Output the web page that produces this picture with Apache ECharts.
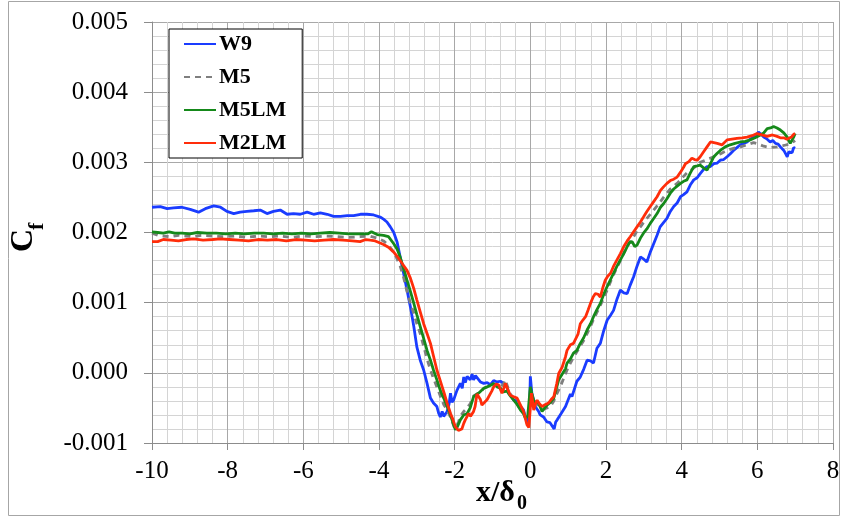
<!DOCTYPE html>
<html>
<head>
<meta charset="utf-8">
<script src="https://cdn.jsdelivr.net/npm/echarts@6/dist/echarts.min.js"></script>
<style>
html,body{margin:0;padding:0;background:#fff;}
#chart{width:843px;height:517px;}
</style>
</head>
<body>
<div id="chart"></div>
<script>
// ---- Data: x/δ0 and Cf values ----
const seriesNames = ['W9', 'M5', 'M5LM', 'M2LM'];

const w9 = [
[-10.0,2.36e-3],[-9.78,2.37e-3],[-9.60,2.34e-3],[-9.43,2.35e-3],[-9.21,2.36e-3],[-8.99,2.33e-3],[-8.77,2.29e-3],[-8.59,2.34e-3],
[-8.37,2.38e-3],[-8.19,2.36e-3],[-8.02,2.30e-3],[-7.84,2.27e-3],[-7.67,2.29e-3],[-7.49,2.30e-3],[-7.31,2.31e-3],[-7.14,2.32e-3],
[-6.96,2.27e-3],[-6.79,2.30e-3],[-6.61,2.32e-3],[-6.43,2.26e-3],[-6.26,2.27e-3],[-6.08,2.26e-3],[-5.90,2.29e-3],[-5.73,2.26e-3],
[-5.55,2.28e-3],[-5.37,2.26e-3],[-5.20,2.23e-3],[-5.02,2.23e-3],[-4.84,2.24e-3],[-4.67,2.24e-3],[-4.49,2.26e-3],[-4.32,2.26e-3],
[-4.14,2.25e-3],[-3.97,2.22e-3],[-3.88,2.19e-3],[-3.79,2.15e-3],[-3.70,2.08e-3],[-3.61,2.00e-3],[-3.52,1.86e-3],[-3.44,1.65e-3],
[-3.35,1.42e-3],[-3.26,1.18e-3],[-3.17,0.94e-3],[-3.08,0.66e-3],[-3.00,0.37e-3],[-2.91,0.18e-3],[-2.82,0.04e-3],[-2.73,-0.15e-3],
[-2.64,-0.36e-3],[-2.56,-0.43e-3],[-2.47,-0.48e-3],[-2.42,-0.58e-3],[-2.38,-0.63e-3],[-2.33,-0.55e-3],[-2.29,-0.62e-3],[-2.20,-0.55e-3],
[-2.15,-0.45e-3],[-2.11,-0.29e-3],[-2.07,-0.42e-3],[-2.03,-0.39e-3],[-1.94,-0.25e-3],[-1.85,-0.15e-3],[-1.80,-0.22e-3],[-1.76,-0.06e-3],
[-1.72,-0.14e-3],[-1.67,-0.05e-3],[-1.59,-0.10e-3],[-1.54,-0.02e-3],[-1.50,-0.10e-3],[-1.45,-0.04e-3],[-1.41,-0.03e-3],[-1.32,-0.13e-3],
[-1.23,-0.15e-3],[-1.14,-0.14e-3],[-1.06,-0.17e-3],[-0.97,-0.11e-3],[-0.88,-0.13e-3],[-0.79,-0.12e-3],[-0.71,-0.15e-3],[-0.62,-0.20e-3],
[-0.57,-0.29e-3],[-0.50,-0.33e-3],[-0.44,-0.39e-3],[-0.35,-0.40e-3],[-0.26,-0.48e-3],[-0.18,-0.53e-3],[-0.13,-0.63e-3],[-0.07,-0.74e-3],
[-0.02,-0.50e-3],[0.00,-0.05e-3],[0.04,-0.29e-3],[0.09,-0.40e-3],[0.13,-0.48e-3],[0.22,-0.55e-3],[0.26,-0.60e-3],[0.35,-0.63e-3],
[0.44,-0.70e-3],[0.52,-0.71e-3],[0.57,-0.72e-3],[0.63,-0.80e-3],[0.67,-0.70e-3],[0.71,-0.67e-3],[0.79,-0.60e-3],[0.84,-0.58e-3],
[0.93,-0.48e-3],[0.97,-0.46e-3],[1.06,-0.30e-3],[1.10,-0.34e-3],[1.23,-0.12e-3],[1.32,-0.06e-3],[1.41,0.05e-3],[1.50,0.18e-3],
[1.59,0.17e-3],[1.67,0.14e-3],[1.76,0.35e-3],[1.85,0.42e-3],[1.94,0.60e-3],[2.03,0.75e-3],[2.12,0.82e-3],[2.20,0.89e-3],
[2.29,1.05e-3],[2.38,1.18e-3],[2.47,1.14e-3],[2.56,1.13e-3],[2.64,1.25e-3],[2.73,1.37e-3],[2.82,1.52e-3],[2.91,1.65e-3],
[3.00,1.62e-3],[3.08,1.58e-3],[3.17,1.72e-3],[3.26,1.84e-3],[3.35,1.96e-3],[3.43,2.08e-3],[3.52,2.14e-3],[3.61,2.20e-3],
[3.70,2.30e-3],[3.79,2.37e-3],[3.88,2.42e-3],[3.97,2.51e-3],[4.05,2.54e-3],[4.14,2.58e-3],[4.23,2.68e-3],[4.32,2.75e-3],
[4.41,2.78e-3],[4.49,2.84e-3],[4.58,2.90e-3],[4.67,2.94e-3],[4.76,2.94e-3],[4.85,2.98e-3],[4.94,2.99e-3],[5.02,3.03e-3],
[5.11,3.04e-3],[5.20,3.08e-3],[5.28,3.12e-3],[5.37,3.17e-3],[5.46,3.21e-3],[5.55,3.25e-3],[5.64,3.27e-3],[5.73,3.29e-3],
[5.81,3.33e-3],[5.90,3.36e-3],[5.96,3.38e-3],[6.03,3.43e-3],[6.10,3.40e-3],[6.17,3.36e-3],[6.26,3.33e-3],[6.34,3.29e-3],
[6.41,3.31e-3],[6.48,3.27e-3],[6.55,3.26e-3],[6.61,3.22e-3],[6.70,3.17e-3],[6.75,3.12e-3],[6.79,3.08e-3],[6.83,3.15e-3],
[6.87,3.17e-3],[6.92,3.14e-3],[6.96,3.21e-3],[7.00,3.20e-3]
];

const m5 = [
[-10.0,1.99e-3],[-9.85,1.96e-3],[-9.70,1.95e-3],[-9.50,1.94e-3],[-9.30,1.96e-3],[-9.10,1.95e-3],[-8.90,1.94e-3],[-8.70,1.96e-3],
[-8.40,1.95e-3],[-8.10,1.94e-3],[-7.80,1.95e-3],[-7.50,1.93e-3],[-7.20,1.95e-3],[-6.90,1.94e-3],[-6.60,1.95e-3],[-6.30,1.93e-3],
[-6.00,1.95e-3],[-5.70,1.94e-3],[-5.40,1.95e-3],[-5.10,1.94e-3],[-4.80,1.93e-3],[-4.50,1.94e-3],[-4.25,1.95e-3],[-4.05,1.92e-3],
[-3.88,1.88e-3],[-3.75,1.82e-3],[-3.61,1.72e-3],[-3.52,1.62e-3],[-3.44,1.52e-3],[-3.35,1.36e-3],[-3.26,1.16e-3],[-3.17,0.99e-3],
[-3.08,0.85e-3],[-3.00,0.70e-3],[-2.91,0.56e-3],[-2.82,0.38e-3],[-2.73,0.20e-3],[-2.64,0.04e-3],[-2.56,-0.08e-3],[-2.47,-0.20e-3],
[-2.38,-0.33e-3],[-2.29,-0.45e-3],[-2.20,-0.53e-3],[-2.12,-0.62e-3],[-2.05,-0.72e-3],[-2.00,-0.79e-3],[-1.95,-0.76e-3],[-1.90,-0.70e-3],
[-1.85,-0.62e-3],[-1.76,-0.55e-3],[-1.67,-0.50e-3],[-1.59,-0.44e-3],[-1.50,-0.33e-3],[-1.41,-0.30e-3],[-1.32,-0.28e-3],[-1.23,-0.22e-3],
[-1.14,-0.20e-3],[-1.06,-0.17e-3],[-0.97,-0.16e-3],[-0.88,-0.18e-3],[-0.79,-0.20e-3],[-0.71,-0.16e-3],[-0.66,-0.10e-3],[-0.60,-0.20e-3],
[-0.53,-0.30e-3],[-0.44,-0.38e-3],[-0.35,-0.44e-3],[-0.26,-0.52e-3],[-0.18,-0.58e-3],[-0.10,-0.66e-3],[-0.04,-0.62e-3],[0.00,-0.22e-3],
[0.05,-0.32e-3],[0.10,-0.42e-3],[0.18,-0.45e-3],[0.26,-0.47e-3],[0.35,-0.52e-3],[0.44,-0.50e-3],[0.53,-0.48e-3],[0.62,-0.40e-3],
[0.70,-0.30e-3],[0.79,-0.20e-3],[0.88,-0.08e-3],[0.97,0.04e-3],[1.06,0.14e-3],[1.14,0.22e-3],[1.23,0.30e-3],[1.32,0.38e-3],
[1.41,0.46e-3],[1.50,0.56e-3],[1.59,0.66e-3],[1.67,0.76e-3],[1.76,0.86e-3],[1.85,0.96e-3],[1.94,1.07e-3],[2.03,1.18e-3],
[2.12,1.30e-3],[2.20,1.40e-3],[2.29,1.50e-3],[2.38,1.60e-3],[2.47,1.71e-3],[2.56,1.80e-3],[2.64,1.87e-3],[2.73,1.94e-3],
[2.82,2.02e-3],[2.91,2.08e-3],[2.99,2.14e-3],[3.08,2.20e-3],[3.17,2.26e-3],[3.26,2.32e-3],[3.35,2.38e-3],[3.44,2.44e-3],
[3.52,2.50e-3],[3.61,2.56e-3],[3.70,2.62e-3],[3.79,2.66e-3],[3.88,2.70e-3],[3.97,2.75e-3],[4.05,2.80e-3],[4.14,2.85e-3],
[4.23,2.88e-3],[4.32,2.92e-3],[4.41,2.96e-3],[4.49,3.00e-3],[4.67,3.04e-3],[4.85,3.08e-3],[5.02,3.12e-3],[5.20,3.17e-3],
[5.37,3.20e-3],[5.55,3.22e-3],[5.73,3.25e-3],[5.90,3.28e-3],[6.03,3.26e-3],[6.17,3.23e-3],[6.34,3.21e-3],[6.52,3.22e-3],
[6.70,3.24e-3],[6.85,3.26e-3],[7.00,3.31e-3]
];

const m5lm = [
[-10.0,2.01e-3],[-9.85,2.00e-3],[-9.70,1.99e-3],[-9.55,2.01e-3],[-9.40,1.99e-3],[-9.20,1.99e-3],[-9.00,1.98e-3],[-8.80,2.00e-3],
[-8.55,1.99e-3],[-8.30,1.99e-3],[-8.05,1.98e-3],[-7.80,1.99e-3],[-7.55,1.98e-3],[-7.30,1.99e-3],[-7.05,1.99e-3],[-6.80,1.98e-3],
[-6.55,1.99e-3],[-6.30,1.98e-3],[-6.05,1.99e-3],[-5.80,1.98e-3],[-5.55,1.99e-3],[-5.30,2.00e-3],[-5.05,1.99e-3],[-4.80,1.98e-3],
[-4.55,1.98e-3],[-4.30,1.98e-3],[-4.20,2.01e-3],[-4.05,1.97e-3],[-3.88,1.96e-3],[-3.75,1.94e-3],[-3.61,1.84e-3],[-3.52,1.76e-3],
[-3.44,1.65e-3],[-3.35,1.49e-3],[-3.26,1.32e-3],[-3.17,1.16e-3],[-3.08,0.99e-3],[-3.00,0.83e-3],[-2.91,0.66e-3],[-2.82,0.49e-3],
[-2.73,0.32e-3],[-2.64,0.18e-3],[-2.56,0.04e-3],[-2.47,-0.10e-3],[-2.38,-0.25e-3],[-2.29,-0.36e-3],[-2.20,-0.48e-3],[-2.13,-0.57e-3],
[-2.07,-0.67e-3],[-2.02,-0.75e-3],[-1.98,-0.81e-3],[-1.94,-0.78e-3],[-1.90,-0.79e-3],[-1.85,-0.67e-3],[-1.81,-0.69e-3],[-1.76,-0.60e-3],
[-1.67,-0.58e-3],[-1.59,-0.50e-3],[-1.50,-0.34e-3],[-1.46,-0.36e-3],[-1.37,-0.29e-3],[-1.32,-0.30e-3],[-1.23,-0.22e-3],[-1.14,-0.20e-3],
[-1.06,-0.18e-3],[-0.97,-0.15e-3],[-0.88,-0.20e-3],[-0.79,-0.22e-3],[-0.71,-0.27e-3],[-0.62,-0.26e-3],[-0.53,-0.33e-3],[-0.44,-0.39e-3],
[-0.35,-0.45e-3],[-0.26,-0.53e-3],[-0.18,-0.58e-3],[-0.13,-0.65e-3],[-0.07,-0.62e-3],[0.00,-0.20e-3],[0.04,-0.30e-3],[0.09,-0.39e-3],
[0.13,-0.42e-3],[0.22,-0.43e-3],[0.31,-0.55e-3],[0.38,-0.50e-3],[0.44,-0.46e-3],[0.53,-0.42e-3],[0.62,-0.36e-3],[0.70,-0.20e-3],
[0.75,-0.10e-3],[0.84,-0.02e-3],[0.93,0.06e-3],[0.97,0.14e-3],[1.06,0.20e-3],[1.14,0.28e-3],[1.23,0.32e-3],[1.32,0.42e-3],
[1.41,0.50e-3],[1.50,0.61e-3],[1.59,0.70e-3],[1.67,0.80e-3],[1.76,0.90e-3],[1.85,0.99e-3],[1.94,1.12e-3],[2.03,1.23e-3],
[2.12,1.33e-3],[2.20,1.42e-3],[2.29,1.52e-3],[2.38,1.61e-3],[2.47,1.70e-3],[2.56,1.80e-3],[2.62,1.86e-3],[2.69,1.87e-3],
[2.76,1.80e-3],[2.82,1.82e-3],[2.91,1.92e-3],[2.99,1.99e-3],[3.08,2.05e-3],[3.17,2.13e-3],[3.26,2.20e-3],[3.35,2.27e-3],
[3.44,2.36e-3],[3.52,2.41e-3],[3.61,2.48e-3],[3.70,2.56e-3],[3.79,2.62e-3],[3.88,2.66e-3],[3.97,2.70e-3],[4.05,2.73e-3],
[4.14,2.75e-3],[4.23,2.85e-3],[4.32,2.94e-3],[4.41,2.95e-3],[4.49,2.96e-3],[4.58,2.92e-3],[4.67,2.89e-3],[4.76,2.98e-3],
[4.85,3.08e-3],[4.94,3.13e-3],[5.02,3.17e-3],[5.15,3.22e-3],[5.28,3.25e-3],[5.41,3.27e-3],[5.55,3.29e-3],[5.68,3.30e-3],
[5.81,3.32e-3],[5.94,3.35e-3],[6.08,3.39e-3],[6.17,3.42e-3],[6.26,3.48e-3],[6.35,3.49e-3],[6.43,3.51e-3],[6.52,3.49e-3],
[6.61,3.46e-3],[6.70,3.42e-3],[6.79,3.36e-3],[6.83,3.31e-3],[6.87,3.27e-3],[6.92,3.32e-3],[6.96,3.36e-3],[7.00,3.41e-3]
];

const m2lm = [
[-10.0,1.87e-3],[-9.85,1.87e-3],[-9.70,1.90e-3],[-9.50,1.89e-3],[-9.30,1.88e-3],[-9.10,1.90e-3],[-8.90,1.91e-3],[-8.65,1.89e-3],
[-8.40,1.90e-3],[-8.20,1.91e-3],[-7.95,1.90e-3],[-7.70,1.89e-3],[-7.45,1.88e-3],[-7.20,1.90e-3],[-6.95,1.89e-3],[-6.70,1.90e-3],
[-6.45,1.88e-3],[-6.20,1.90e-3],[-5.95,1.89e-3],[-5.70,1.88e-3],[-5.45,1.89e-3],[-5.20,1.90e-3],[-4.95,1.89e-3],[-4.70,1.88e-3],
[-4.50,1.87e-3],[-4.35,1.90e-3],[-4.23,1.89e-3],[-4.10,1.88e-3],[-3.97,1.85e-3],[-3.88,1.83e-3],[-3.75,1.79e-3],[-3.61,1.72e-3],
[-3.48,1.63e-3],[-3.35,1.53e-3],[-3.26,1.46e-3],[-3.17,1.35e-3],[-3.08,1.20e-3],[-3.00,1.04e-3],[-2.91,0.87e-3],[-2.82,0.70e-3],
[-2.73,0.56e-3],[-2.64,0.42e-3],[-2.56,0.24e-3],[-2.47,0.04e-3],[-2.40,-0.08e-3],[-2.33,-0.20e-3],[-2.26,-0.32e-3],[-2.20,-0.43e-3],
[-2.11,-0.58e-3],[-2.05,-0.66e-3],[-1.98,-0.77e-3],[-1.90,-0.82e-3],[-1.85,-0.83e-3],[-1.81,-0.80e-3],[-1.76,-0.72e-3],[-1.72,-0.67e-3],
[-1.67,-0.66e-3],[-1.63,-0.58e-3],[-1.58,-0.62e-3],[-1.54,-0.60e-3],[-1.50,-0.55e-3],[-1.46,-0.48e-3],[-1.41,-0.30e-3],[-1.37,-0.28e-3],
[-1.32,-0.38e-3],[-1.28,-0.46e-3],[-1.23,-0.44e-3],[-1.14,-0.38e-3],[-1.10,-0.39e-3],[-1.02,-0.26e-3],[-0.97,-0.20e-3],[-0.90,-0.16e-3],
[-0.84,-0.17e-3],[-0.75,-0.29e-3],[-0.70,-0.22e-3],[-0.66,-0.15e-3],[-0.59,-0.24e-3],[-0.53,-0.32e-3],[-0.44,-0.34e-3],[-0.35,-0.36e-3],
[-0.26,-0.46e-3],[-0.18,-0.55e-3],[-0.09,-0.74e-3],[-0.04,-0.78e-3],[0.00,-0.50e-3],[0.03,-0.29e-3],[0.09,-0.53e-3],[0.13,-0.45e-3],
[0.18,-0.39e-3],[0.24,-0.44e-3],[0.31,-0.48e-3],[0.40,-0.45e-3],[0.48,-0.43e-3],[0.55,-0.38e-3],[0.62,-0.34e-3],[0.70,-0.15e-3],
[0.75,-0.01e-3],[0.84,0.08e-3],[0.93,0.23e-3],[0.97,0.32e-3],[1.06,0.40e-3],[1.14,0.42e-3],[1.19,0.41e-3],[1.26,0.55e-3],
[1.32,0.70e-3],[1.40,0.76e-3],[1.46,0.80e-3],[1.53,0.90e-3],[1.59,0.99e-3],[1.66,1.08e-3],[1.72,1.13e-3],[1.79,1.12e-3],
[1.85,1.08e-3],[1.92,1.22e-3],[1.98,1.32e-3],[2.05,1.38e-3],[2.12,1.42e-3],[2.20,1.52e-3],[2.29,1.61e-3],[2.38,1.70e-3],
[2.47,1.80e-3],[2.56,1.88e-3],[2.64,1.94e-3],[2.73,2.01e-3],[2.82,2.08e-3],[2.91,2.15e-3],[2.99,2.22e-3],[3.08,2.30e-3],
[3.17,2.37e-3],[3.26,2.44e-3],[3.35,2.51e-3],[3.44,2.60e-3],[3.52,2.65e-3],[3.61,2.70e-3],[3.70,2.74e-3],[3.79,2.76e-3],
[3.88,2.79e-3],[3.97,2.86e-3],[4.05,2.93e-3],[4.10,2.98e-3],[4.19,3.01e-3],[4.27,3.06e-3],[4.34,3.04e-3],[4.41,3.03e-3],
[4.49,3.08e-3],[4.58,3.15e-3],[4.67,3.22e-3],[4.76,3.29e-3],[4.85,3.28e-3],[4.94,3.27e-3],[5.07,3.25e-3],[5.20,3.32e-3],
[5.33,3.33e-3],[5.46,3.34e-3],[5.60,3.35e-3],[5.73,3.36e-3],[5.86,3.38e-3],[5.99,3.41e-3],[6.12,3.39e-3],[6.26,3.37e-3],
[6.40,3.39e-3],[6.52,3.37e-3],[6.61,3.35e-3],[6.70,3.35e-3],[6.78,3.33e-3],[6.83,3.32e-3],[6.90,3.36e-3],[6.96,3.40e-3],
[7.00,3.41e-3]
];

// Axis ranges (ticks)
const xMin = -10, xMax = 8, xStep = 2;
const yMin = -0.001, yMax = 0.005, yStep = 0.001;

const serif = '"Liberation Serif", "Times New Roman", serif';
const colors = { W9: '#1a3cff', M5: '#7f7f7f', M5LM: '#15891a', M2LM: '#ff2d0a' };
const dataMap = { W9: w9, M5: m5, M5LM: m5lm, M2LM: m2lm };

const chart = echarts.init(document.getElementById('chart'), null, { renderer: 'canvas' });

const series = seriesNames.map(function (name) {
  return {
    name: name,
    type: 'line',
    data: dataMap[name],
    symbol: 'none',
    showSymbol: false,
    smooth: false,
    animation: false,
    lineStyle: {
      color: colors[name],
      width: 2.8,
      type: name === 'M5' ? [6, 5] : 'solid'
    },
    itemStyle: { color: colors[name] }
  };
});

chart.setOption({
  backgroundColor: '#ffffff',
  animation: false,
  textStyle: { fontFamily: serif },
  grid: { left: 152, right: 10, top: 22, bottom: 74, containLabel: false },
  legend: {
    data: seriesNames,
    orient: 'vertical',
    left: 169,
    top: 29,
    itemWidth: 32,
    itemHeight: 14,
    itemGap: 11,
    padding: [4, 16, 4, 14],
    backgroundColor: '#ffffff',
    borderColor: '#000000',
    borderWidth: 1,
    borderRadius: 0,
    itemStyle: { opacity: 0, borderWidth: 0 },
    textStyle: { fontFamily: serif, fontWeight: 'bold', fontSize: 22, color: '#000', padding: [0, 0, 0, -2] }
  },
  xAxis: {
    type: 'value',
    min: xMin, max: xMax, interval: xStep,
    axisLine: { show: true, onZero: false, lineStyle: { color: '#8c8c8c', width: 1 } },
    axisTick: { show: true, inside: false, length: 7, lineStyle: { color: '#8c8c8c' } },
    axisLabel: { margin: 16, fontFamily: serif, fontSize: 25, color: '#000' },
    splitLine: { show: true, lineStyle: { color: '#a8a8a8', width: 1 } },
    minorTick: { show: false, splitNumber: 5 },
    minorSplitLine: { show: true, lineStyle: { color: '#d4d4d4', width: 1 } }
  },
  yAxis: {
    type: 'value',
    min: yMin, max: yMax, interval: yStep,
    axisLine: { show: true, onZero: false, lineStyle: { color: '#8c8c8c', width: 1 } },
    axisTick: { show: true, inside: false, length: 8, lineStyle: { color: '#8c8c8c' } },
    axisLabel: {
      margin: 24, fontFamily: serif, fontSize: 25, color: '#000',
      formatter: function (v) { return (Math.abs(v) < 1e-12 ? 0 : v).toFixed(3); }
    },
    splitLine: { show: true, lineStyle: { color: '#a8a8a8', width: 1 } },
    minorTick: { show: false, splitNumber: 5 },
    minorSplitLine: { show: true, lineStyle: { color: '#d4d4d4', width: 1 } }
  },
  graphic: [
    { type: 'rect', silent: true, z: -10,
      shape: { x: 8.5, y: 1.5, width: 831, height: 514 },
      style: { fill: 'none', stroke: '#a6a6a6', lineWidth: 1 } },
    { type: 'text', silent: true, left: 476, top: 478,
      style: { text: 'x/δ', font: 'bold 30px ' + serif, fill: '#000' } },
    { type: 'text', silent: true, left: 517, top: 494,
      style: { text: '0', font: 'bold 20px ' + serif, fill: '#000' } },
    { type: 'group', silent: true, x: 40, y: 252, rotation: Math.PI / 2,
      children: [
        { type: 'text', x: 0, y: 0,
          style: { text: 'C', font: 'bold 32px ' + serif, fill: '#000', textAlign: 'left', textVerticalAlign: 'bottom' } },
        { type: 'text', x: 22, y: 8,
          style: { text: 'f', font: 'bold 22px ' + serif, fill: '#000', textAlign: 'left', textVerticalAlign: 'bottom' } }
      ] }
  ],
  series: series
});
</script>
</body>
</html>
